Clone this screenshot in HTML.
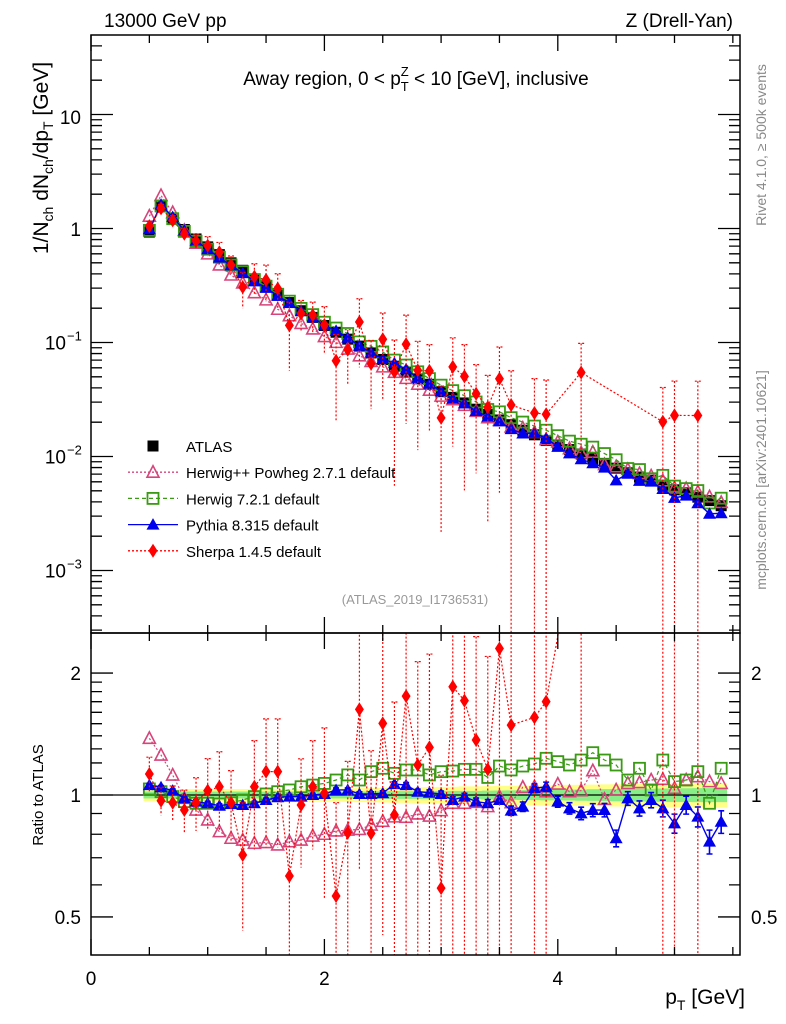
<!DOCTYPE html>
<html><head><meta charset="utf-8"><style>
html,body{margin:0;padding:0;background:#fff;width:786px;height:1024px;overflow:hidden;}
svg{display:block;font-family:"Liberation Sans",Arial,sans-serif;}
</style></head><body>
<svg id="chart" width="786" height="1024" viewBox="0 0 786 1024" xmlns="http://www.w3.org/2000/svg">
<defs>
<clipPath id="cm"><rect x="91" y="35" width="649" height="598"/></clipPath>
<clipPath id="cr"><rect x="91" y="633" width="649" height="322"/></clipPath>
</defs>
<rect width="786" height="1024" fill="#fff"/>
<g id="band" clip-path="url(#cr)"></g>
<g id="mainMarks" clip-path="url(#cm)"></g>
<g id="ratioMarks" clip-path="url(#cr)"></g>
<g id="axes"></g>

<text x="104" y="27" font-size="19">13000 GeV pp</text>
<text x="733" y="27" font-size="19" text-anchor="end">Z (Drell-Yan)</text>
<text x="416" y="85" font-size="19" text-anchor="middle">Away region, 0 &lt; p<tspan font-size="13" dy="6">T</tspan><tspan font-size="13" dx="-8" dy="-15">Z</tspan><tspan dy="9"> &lt; 10 [GeV], inclusive</tspan></text>
<text x="415" y="604" font-size="13" fill="#999" text-anchor="middle">(ATLAS_2019_I1736531)</text>
<text transform="translate(766,145) rotate(-90)" font-size="14" fill="#888" text-anchor="middle">Rivet 4.1.0, ≥ 500k events</text>
<text transform="translate(766,480) rotate(-90)" font-size="14" fill="#888" text-anchor="middle">mcplots.cern.ch [arXiv:2401.10621]</text>
<text transform="translate(48,158) rotate(-90)" font-size="21" text-anchor="middle">1/N<tspan font-size="14" dy="5">ch</tspan><tspan dy="-5"> dN</tspan><tspan font-size="14" dy="5">ch</tspan><tspan dy="-5">/dp</tspan><tspan font-size="14" dy="5">T</tspan><tspan dy="-5"> [GeV]</tspan></text>
<text transform="translate(43,795) rotate(-90)" font-size="15" text-anchor="middle">Ratio to ATLAS</text>
<text x="745" y="1004" font-size="21" text-anchor="end">p<tspan font-size="14" dy="6">T</tspan><tspan dy="-6"> [GeV]</tspan></text>
<g id="legend"></g>
</svg>
<script>
const pT=[0.5,0.6,0.7,0.8,0.9,1.0,1.1,1.2,1.3,1.4,1.5,1.6,1.7,1.8,1.9,2.0,2.1,2.2,2.3,2.4,2.5,2.6,2.7,2.8,2.9,3.0,3.1,3.2,3.3,3.4,3.5,3.6,3.7,3.8,3.9,4.0,4.1,4.2,4.3,4.4,4.5,4.6,4.7,4.8,4.9,5.0,5.1,5.2,5.3,5.4];
const atlas=[0.93,1.55,1.23,0.98,0.81,0.69,0.59,0.50,0.43,0.36,0.31,0.26,0.224,0.19,0.166,0.141,0.123,0.107,0.093,0.081,0.071,0.062,0.055,0.048,0.043,0.037,0.033,0.0295,0.026,0.0234,0.0209,0.019,0.017,0.0155,0.0138,0.0126,0.0115,0.0105,0.0095,0.0087,0.0079,0.0072,0.0066,0.0062,0.0056,0.0051,0.0048,0.0044,0.0041,0.0037];
const bandInner=[0.02,0.02,0.02,0.02,0.02,0.02,0.02,0.02,0.02,0.02,0.02,0.02,0.02,0.02,0.02,0.02,0.02,0.02,0.02,0.02,0.022,0.022,0.022,0.022,0.022,0.024,0.024,0.024,0.024,0.025,0.026,0.027,0.028,0.029,0.03,0.03,0.031,0.032,0.033,0.034,0.035,0.036,0.036,0.037,0.038,0.038,0.039,0.04,0.04,0.04];
const bandOuter=[0.035,0.035,0.035,0.035,0.035,0.035,0.035,0.035,0.035,0.035,0.035,0.035,0.035,0.035,0.035,0.035,0.037,0.038,0.04,0.04,0.042,0.043,0.044,0.045,0.046,0.047,0.048,0.05,0.05,0.052,0.053,0.054,0.055,0.056,0.057,0.058,0.059,0.06,0.061,0.062,0.063,0.064,0.065,0.066,0.067,0.068,0.069,0.07,0.07,0.07];
const rHerwigPP=[1.38,1.255,1.12,0.981,0.918,0.868,0.812,0.782,0.774,0.760,0.763,0.753,0.767,0.774,0.792,0.800,0.815,0.819,0.822,0.843,0.861,0.883,0.881,0.898,0.887,0.915,0.954,0.954,0.959,0.936,0.991,0.957,1.045,1.048,1.019,1.064,1.019,1.025,1.148,0.976,1.029,1.068,1.073,1.089,1.093,1.039,1.089,1.110,1.079,1.068];
const rHerwig7=[1.035,1.019,0.991,0.963,0.954,0.954,0.950,0.957,0.972,0.991,1.006,1.019,1.029,1.048,1.058,1.068,1.089,1.121,1.089,1.142,1.164,1.131,1.153,1.153,1.121,1.142,1.146,1.157,1.157,1.105,1.179,1.153,1.179,1.193,1.232,1.209,1.186,1.220,1.272,1.220,1.186,1.089,1.164,1.029,1.220,1.079,1.089,1.142,0.954,1.164];
const rPythia=[1.058,1.045,1.025,0.981,0.963,0.954,0.941,0.950,0.945,0.954,0.972,0.987,0.991,0.991,1.0,1.006,1.029,1.029,1.006,1.006,1.010,1.064,1.058,1.019,1.013,1.006,0.972,0.991,0.963,0.954,0.972,0.915,0.936,1.039,1.048,0.963,0.927,0.901,0.918,0.918,0.782,0.981,0.927,0.972,0.927,0.851,0.945,0.884,0.767,0.859];
const ePythia=[0.01,0.01,0.01,0.01,0.01,0.01,0.01,0.01,0.01,0.01,0.01,0.01,0.01,0.01,0.01,0.01,0.012,0.012,0.012,0.012,0.014,0.014,0.015,0.015,0.016,0.017,0.018,0.019,0.02,0.02,0.022,0.024,0.025,0.026,0.028,0.03,0.03,0.032,0.034,0.035,0.037,0.038,0.04,0.042,0.044,0.046,0.048,0.05,0.052,0.055];
const rSherpa=[1.127,0.968,0.957,0.918,0.959,1.025,1.048,0.957,0.711,1.048,1.142,1.142,0.631,0.945,1.048,1.010,0.563,0.807,1.627,0.804,1.503,0.893,1.755,1.186,1.311,0.589,1.851,1.71,1.367,1.157,2.3,1.488,null,1.555,1.70,null,null,5.2,null,null,null,null,null,null,3.6,4.5,null,5.2,null,null];
const eSherpa=[0.1,0.08,0.1,0.12,0.15,0.2,0.22,0.2,0.35,0.3,0.35,0.35,0.6,0.3,0.3,0.45,0.7,0.5,0.6,0.6,0.7,0.9,0.8,0.8,0.7,0.9,0.8,0.9,0.8,0.9,0.9,1.0,null,1.0,1.0,null,null,0.8,null,null,null,null,null,null,1.0,1.0,null,1.0,null,null];

const NS="http://www.w3.org/2000/svg";
const X0=91,X1=740,MT=35,MB=633,RB=955;
function xs(p){return X0+116.7*p;}
function ym(v){return 228.5-114*Math.log10(v);}
function yr(r){return 795-405*Math.log10(r);}
function mk(tag,attrs,parent){const e=document.createElementNS(NS,tag);for(const k in attrs)e.setAttribute(k,attrs[k]);parent.appendChild(e);return e;}
const main=document.getElementById('mainMarks'),rat=document.getElementById('ratioMarks'),axes=document.getElementById('axes'),band=document.getElementById('band'),leg=document.getElementById('legend');

function marker(type,x,y,parent){
  let e;
  if(type==='atlas'){e=mk('rect',{x:x-5.5,y:y-5.5,width:11,height:11,fill:'#000'},parent);}
  else if(type==='hpp'){e=mk('polygon',{points:`${x},${y-6.5} ${x-6},${y+5} ${x+6},${y+5}`,fill:'none',stroke:'#d6457a','stroke-width':1.6},parent);}
  else if(type==='h7'){e=mk('rect',{x:x-5.5,y:y-5.5,width:11,height:11,fill:'none',stroke:'#3a9a14','stroke-width':1.8},parent);}
  else if(type==='py'){e=mk('polygon',{points:`${x},${y-6.5} ${x-6.5},${y+5} ${x+6.5},${y+5}`,fill:'#0000ee'},parent);}
  else {e=mk('polygon',{points:`${x},${y-7} ${x-4.5},${y} ${x},${y+7} ${x+4.5},${y}`,fill:'#ff0000'},parent);}
  return e;
}
function drawLine(pts,parent,col,dash,w,name){
  const cur=pts.filter(p=>p);
  if(cur.length<2)return;
  const e=mk('polyline',{points:cur.map(p=>p.join(',')).join(' '),fill:'none',stroke:col,'stroke-width':w,'stroke-dasharray':dash},parent);
  
  
}

(function(){
  let up=[],dn=[],up2=[],dn2=[];
  pT.forEach((p,i)=>{const xa=xs(p-0.05),xb=xs(p+0.05);
    up.push([xa,yr(1+bandOuter[i])],[xb,yr(1+bandOuter[i])]);dn.push([xa,yr(1-bandOuter[i])],[xb,yr(1-bandOuter[i])]);
    up2.push([xa,yr(1+bandInner[i])],[xb,yr(1+bandInner[i])]);dn2.push([xa,yr(1-bandInner[i])],[xb,yr(1-bandInner[i])]);});
  const y=mk('polygon',{points:up.concat(dn.reverse()).map(p=>p.join(',')).join(' '),fill:'#ffff88'},band);
  
  
  const g=mk('polygon',{points:up2.concat(dn2.reverse()).map(p=>p.join(',')).join(' '),fill:'#88ee88'},band);
  
  
})();
const one=mk('line',{x1:X0,x2:X1,y1:yr(1),y2:yr(1),stroke:'#000','stroke-width':1.2},rat);



const hpp=atlas.map((a,i)=>a*rHerwigPP[i]),h7=atlas.map((a,i)=>a*rHerwig7[i]),py=atlas.map((a,i)=>a*rPythia[i]);
const sh=atlas.map((a,i)=>rSherpa[i]==null?null:a*rSherpa[i]);
pT.forEach((p,i)=>{const m=marker('atlas',xs(p),ym(atlas[i]),main);
  
  });
drawLine(pT.map((p,i)=>[xs(p),ym(hpp[i])]),main,'#d6457a','2,2',1.2,'herwigpp-line');
drawLine(pT.map((p,i)=>[xs(p),yr(rHerwigPP[i])]),rat,'#d6457a','2,2',1.2,'herwigpp-ratio-line');
pT.forEach((p,i)=>{const m=marker('hpp',xs(p),ym(hpp[i]),main);
  
  
  const r=marker('hpp',xs(p),yr(rHerwigPP[i]),rat);
  
  });
drawLine(pT.map((p,i)=>[xs(p),ym(h7[i])]),main,'#3a9a14','4,3',1.2,'herwig7-line');
drawLine(pT.map((p,i)=>[xs(p),yr(rHerwig7[i])]),rat,'#3a9a14','4,3',1.2,'herwig7-ratio-line');
pT.forEach((p,i)=>{const m=marker('h7',xs(p),ym(h7[i]),main);
  
  
  const r=marker('h7',xs(p),yr(rHerwig7[i]),rat);
  
  });
drawLine(pT.map((p,i)=>[xs(p),ym(py[i])]),main,'#0000ee','',1.4,'pythia-line');
drawLine(pT.map((p,i)=>[xs(p),yr(rPythia[i])]),rat,'#0000ee','',1.4,'pythia-ratio-line');
pT.forEach((p,i)=>{const x=xs(p);
  const m=marker('py',x,ym(py[i]),main);
  
  
  const e=ePythia[i];const y1=yr(rPythia[i]+e),y2=yr(rPythia[i]-e);
  const eb=mk('path',{d:`M${x},${y1}V${y2}M${x-3},${y1}H${x+3}M${x-3},${y2}H${x+3}`,stroke:'#0000ee','stroke-width':1.6,fill:'none'},rat);
  
  
  const r=marker('py',x,yr(rPythia[i]),rat);
  
  });
drawLine(pT.map((p,i)=>sh[i]==null?null:[xs(p),ym(sh[i])]),main,'#ff0000','2,2',1.2,'sherpa-line');
drawLine(pT.map((p,i)=>rSherpa[i]==null?null:[xs(p),yr(rSherpa[i])]),rat,'#ff0000','2,2',1.2,'sherpa-ratio-line');
pT.forEach((p,i)=>{if(rSherpa[i]==null)return;const x=xs(p);const e=eSherpa[i];
  const lo=Math.max(1-e,0.001),hi=1+e;
  const a=mk('path',{d:`M${x},${ym(sh[i]*hi)}V${ym(sh[i]*lo)}M${x-3},${ym(sh[i]*hi)}H${x+3}`,stroke:'#ff0000','stroke-width':1.2,'stroke-dasharray':'2,2',fill:'none'},main);
  
  
  const b=mk('path',{d:`M${x},${yr(rSherpa[i]*hi)}V${yr(rSherpa[i]*lo)}M${x-3},${yr(rSherpa[i]*hi)}H${x+3}`,stroke:'#ff0000','stroke-width':1.2,'stroke-dasharray':'2,2',fill:'none'},rat);
  
  
  const m=marker('sh',x,ym(sh[i]),main);
  
  
  const r=marker('sh',x,yr(rSherpa[i]),rat);
  
  });

[[MT,MB],[MB,RB]].forEach((f,k)=>{const r=mk('rect',{x:X0,y:f[0],width:X1-X0,height:f[1]-f[0],fill:'none',stroke:'#000','stroke-width':1.5},axes);
  
  });
let d='';
for(let k=0;k<=11;k++){const v=k*0.5;const x=xs(v);const L=(k%4===0)?16:8;
  d+=`M${x},${RB}v${-L}M${x},${MB}v${-L}M${x},${MT}v${L}M${x},${MB}v${L}`;}
for(let e=-4;e<=1;e++){for(let m=1;m<=9;m++){const v=m*Math.pow(10,e);const y=ym(v);if(y<MT||y>MB)continue;const L=m==1?22:11;d+=`M${X0},${y}h${L}M${X1},${y}h${-L}`;}}
[0.5,0.6,0.7,0.8,0.9,1,1.1,1.2,1.3,1.4,1.5,1.6,1.7,1.8,1.9,2].forEach(v=>{const y=yr(v);const L=(v==0.5||v==1||v==2)?22:11;d+=`M${X0},${y}h${L}M${X1},${y}h${-L}`;});
const tk=mk('path',{d:d,stroke:'#000','stroke-width':1.3,fill:'none'},axes);


function txt(s,x,y,size,anchor,name){const t=mk('text',{x:x,y:y,'font-size':size,'text-anchor':anchor},axes);t.textContent=s;return t;}
const xLabels=['0','2','4'];
xLabels.forEach(s=>txt(s,xs(+s),985,19,'middle','x-tick-label'));
txt('10',81,124,19,'end','y-tick-label');txt('1',81,236,19,'end','y-tick-label');
[-1,-2,-3].forEach(e=>{txt('10',66,ym(Math.pow(10,e))+7,19,'end','y-tick-label');
  const s=mk('text',{x:67,y:ym(Math.pow(10,e))-2,'font-size':13},axes);s.textContent='−'+(-e);
  
  });
const rLabels=['0.5','1','2'];
rLabels.forEach(s=>{txt(s,81,yr(+s)+7,19,'end','ratio-tick-label');txt(s,751,yr(+s)+7,19,'start','ratio-tick-label-right');});

const entries=[['atlas','ATLAS',null,''],['hpp','Herwig++ Powheg 2.7.1 default','#d6457a','2,2'],['h7','Herwig 7.2.1 default','#3a9a14','4,3'],['py','Pythia 8.315 default','#0000ee',''],['sh','Sherpa 1.4.5 default','#ff0000','2,2']];
entries.forEach((en,i)=>{const y=446+i*26.2;
  const g=mk('g',{},leg);
  
  
  if(en[2])mk('line',{x1:128,x2:178,y1:y,y2:y,stroke:en[2],'stroke-width':1.3,'stroke-dasharray':en[3]},g);
  marker(en[0],153,y,g);
  const t=mk('text',{x:186,y:y+6,'font-size':15},g);t.textContent=en[1];});
</script>
</body></html>
